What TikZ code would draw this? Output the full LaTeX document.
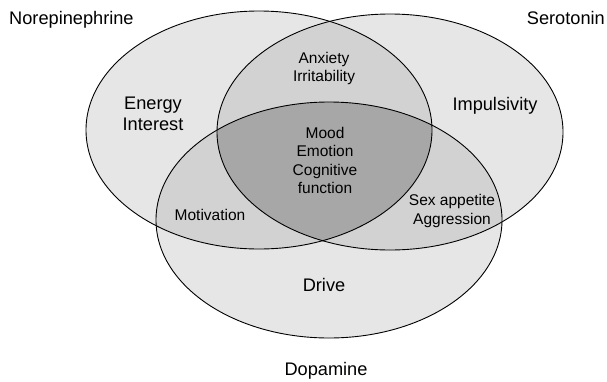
\documentclass[tikz,border=0pt]{standalone}
\usepackage{fontspec}
\setmainfont{Liberation Sans}
\definecolor{oneC}{HTML}{E6E6E6}
\definecolor{twoC}{HTML}{D2D2D2}
\definecolor{threeC}{HTML}{A7A7A7}
\begin{document}
\begin{tikzpicture}[x=1pt,y=-1pt,
  big/.style={inner sep=0pt,align=center,font=\fontsize{18.2}{21}\selectfont},
  small/.style={inner sep=0pt,align=center,font=\fontsize{15.5}{18.5}\selectfont},
  outline/.style={draw=black,line width=0.9pt}]
\useasboundingbox (0,0) rectangle (607,381);
\def\ellN{(259,130) ellipse [x radius=173pt, y radius=119pt]}
\def\ellS{(390,132) ellipse [x radius=173pt, y radius=118pt]}
\def\ellD{(329,220) ellipse [x radius=173pt, y radius=118pt]}
% single regions
\fill[oneC] \ellN;
\fill[oneC] \ellS;
\fill[oneC] \ellD;
% pairwise
\begin{scope}
  \clip \ellN;
  \fill[twoC] \ellS;
  \fill[twoC] \ellD;
\end{scope}
\begin{scope}
  \clip \ellS;
  \fill[twoC] \ellD;
\end{scope}
% triple
\begin{scope}
  \clip \ellN;
  \clip \ellS;
  \fill[threeC] \ellD;
\end{scope}
\draw[outline] \ellN;
\draw[outline] \ellS;
\draw[outline] \ellD;
% labels
\node[big,anchor=base west] (norepi) at (9,24.3) {Norepinephrine};
\node[big,anchor=base east] (sero) at (605,24.3) {Serotonin};
\node[big,anchor=base] (dopa) at (326,375.7) {Dopamine};
\node[small] (anx) at (324,68.3) {Anxiety\\Irritability};
\node[big] (energy) at (153,114) {Energy\\Interest};
\node[big,anchor=base] (impuls) at (495,110) {Impulsivity};
\node[small] (mood) at (325,160.5) {Mood\\Emotion\\Cognitive\\function};
\node[small,anchor=base] (motiv) at (210,220) {Motivation};
\node[small] (sex) at (452,211) {Sex appetite\\Aggression};
\node[big,anchor=base] (drive) at (324,291) {Drive};
\end{tikzpicture}
\end{document}
